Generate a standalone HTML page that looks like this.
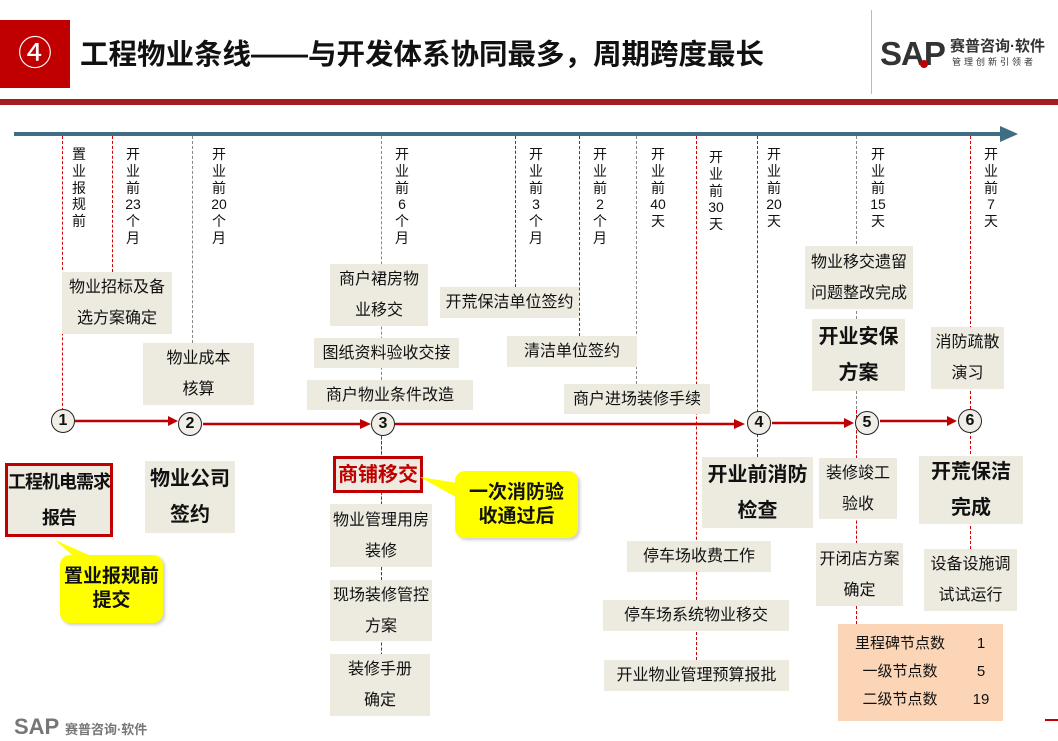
<!DOCTYPE html>
<html><head><meta charset="utf-8"><style>
*{margin:0;padding:0;box-sizing:border-box}
body{width:1058px;height:721px;overflow:hidden;background:#fff;position:relative;font-family:"Liberation Sans","Noto Sans CJK SC",sans-serif;color:#111}
.a{position:absolute}
.b{position:absolute;background:#edeae0;display:flex;align-items:center;justify-content:center;text-align:center;font-size:16px;line-height:31px;white-space:nowrap}
.bd{font-weight:bold;font-size:20px;line-height:36px}
.v{position:absolute;top:146px;width:16px;font-size:14px;line-height:16.8px;text-align:center;white-space:pre}
.g{position:absolute;width:0;border-left:1px dashed #d40000}
.c{position:absolute;width:24px;height:24px;border-radius:50%;border:1.5px solid #222;background:#f0eee6;font-weight:bold;font-size:16px;line-height:21px;text-align:center}
.y{position:absolute;background:#ffff00;border-radius:10px;font-weight:bold;font-size:19px;line-height:24px;display:flex;align-items:center;justify-content:center;text-align:center;box-shadow:2px 2px 3px #ccc}
</style></head><body>
<div class="a" style="left:0;top:20px;width:70px;height:68px;background:#c00000;color:#fff;font-size:34px;line-height:68px;text-align:center">④</div>
<div class="a" style="left:80px;top:35px;font-size:28.5px;font-weight:bold;line-height:40px;white-space:nowrap">工程物业条线——与开发体系协同最多，周期跨度最长</div>
<div class="a" style="left:871px;top:10px;width:1px;height:84px;background:#bbb"></div>
<div class="a" style="left:880px;top:36px;font-size:33px;font-weight:bold;color:#333;letter-spacing:-1px;line-height:36px">SAP</div>
<div class="a" style="left:920px;top:60px;width:8px;height:8px;border-radius:50%;background:#c00000"></div>
<div class="a" style="left:950px;top:38px;font-size:15px;font-weight:bold;color:#333;line-height:18px">赛普咨询·软件</div>
<div class="a" style="left:952px;top:57px;font-size:9px;color:#333;letter-spacing:3px;line-height:11px">管理创新引领者</div>
<div class="a" style="left:0;top:99px;width:1058px;height:6px;background:#a31d22"></div>
<div class="a" style="left:14px;top:132px;width:994px;height:4px;background:#3e6e81"></div>
<svg class="a" style="left:1000px;top:126px" width="20" height="16"><polygon points="0,0 18,8 0,16" fill="#3e6e81"/></svg>
<div class="g" style="left:62px;top:136px;height:285px"></div>
<div class="g" style="left:112px;top:136px;height:136px"></div>
<div class="g" style="left:192px;top:136px;height:207px;border-color:#888"></div>
<div class="g" style="left:381px;top:136px;height:580px;border-color:#888"></div>
<div class="g" style="left:381px;top:436px;height:280px"></div>
<div class="g" style="left:515px;top:136px;height:151px"></div>
<div class="g" style="left:579px;top:136px;height:200px"></div>
<div class="g" style="left:636px;top:136px;height:248px;border-color:#888"></div>
<div class="g" style="left:696px;top:136px;height:524px"></div>
<div class="g" style="left:757px;top:136px;height:321px"></div>
<div class="g" style="left:856px;top:136px;height:488px;border-color:#888"></div>
<div class="g" style="left:856px;top:410px;height:214px"></div>
<div class="g" style="left:970px;top:136px;height:413px"></div>
<div class="v" style="left:71px">置
业
报
规
前</div>
<div class="v" style="left:125px">开
业
前
23
个
月</div>
<div class="v" style="left:211px">开
业
前
20
个
月</div>
<div class="v" style="left:394px">开
业
前
6
个
月</div>
<div class="v" style="left:528px">开
业
前
3
个
月</div>
<div class="v" style="left:592px">开
业
前
2
个
月</div>
<div class="v" style="left:650px">开
业
前
40
天</div>
<div class="v" style="left:708px;top:149px">开
业
前
30
天</div>
<div class="v" style="left:766px">开
业
前
20
天</div>
<div class="v" style="left:870px">开
业
前
15
天</div>
<div class="v" style="left:983px">开
业
前
7
天</div>
<div class="b" style="left:62px;top:272px;width:110px;height:62px">物业招标及备<br>选方案确定</div>
<div class="b" style="left:143px;top:343px;width:111px;height:62px">物业成本<br>核算</div>
<div class="b" style="left:330px;top:264px;width:98px;height:62px">商户裙房物<br>业移交</div>
<div class="b" style="left:314px;top:338px;width:145px;height:30px">图纸资料验收交接</div>
<div class="b" style="left:307px;top:380px;width:166px;height:30px">商户物业条件改造</div>
<div class="b" style="left:440px;top:287px;width:139px;height:31px">开荒保洁单位签约</div>
<div class="b" style="left:507px;top:336px;width:130px;height:31px">清洁单位签约</div>
<div class="b" style="left:564px;top:384px;width:146px;height:30px">商户进场装修手续</div>
<div class="b" style="left:805px;top:246px;width:108px;height:63px">物业移交遗留<br>问题整改完成</div>
<div class="b bd" style="left:812px;top:319px;width:93px;height:72px">开业安保<br>方案</div>
<div class="b" style="left:931px;top:327px;width:73px;height:62px">消防疏散<br>演习</div>
<svg class="a" style="left:0;top:400px" width="1058" height="40">
<g stroke="#c00000" stroke-width="2.5" fill="#c00000">
<line x1="75" y1="21" x2="170" y2="21"/><polygon points="168,16 178,21 168,26" stroke="none"/>
<line x1="203" y1="24" x2="362" y2="24"/><polygon points="360,19 371,24 360,29" stroke="none"/>
<line x1="395" y1="24" x2="736" y2="24"/><polygon points="734,19 745,24 734,29" stroke="none"/>
<line x1="772" y1="23" x2="846" y2="23"/><polygon points="844,18 854,23 844,28" stroke="none"/>
<line x1="880" y1="21" x2="949" y2="21"/><polygon points="947,16 957,21 947,26" stroke="none"/>
</g></svg>
<div class="c" style="left:51px;top:409px">1</div>
<div class="c" style="left:178px;top:412px">2</div>
<div class="c" style="left:371px;top:412px">3</div>
<div class="c" style="left:747px;top:411px">4</div>
<div class="c" style="left:855px;top:411px">5</div>
<div class="c" style="left:958px;top:409px">6</div>
<div class="b bd" style="left:5px;top:463px;width:108px;height:74px;border:3px solid #c00000;font-size:18px;letter-spacing:-1px">工程机电需求<br>报告</div>
<div class="b bd" style="left:145px;top:461px;width:90px;height:72px">物业公司<br>签约</div>
<div class="b bd" style="left:333px;top:456px;width:90px;height:37px;border:3px solid #c00000;color:#c00000">商铺移交</div>
<svg class="a" style="left:0;top:440px" width="600" height="150">
<polygon points="420,37 470,45 470,65" fill="#ffff00"/>
<polygon points="55,100 100,120 80,122" fill="#ffff00"/>
</svg>
<div class="y" style="left:455px;top:471px;width:123px;height:67px">一次消防验<br>收通过后</div>
<div class="y" style="left:60px;top:555px;width:103px;height:68px">置业报规前<br>提交</div>
<div class="b" style="left:330px;top:504px;width:102px;height:63px">物业管理用房<br>装修</div>
<div class="b" style="left:330px;top:580px;width:102px;height:61px">现场装修管控<br>方案</div>
<div class="b" style="left:330px;top:654px;width:100px;height:62px">装修手册<br>确定</div>
<div class="b bd" style="left:702px;top:457px;width:111px;height:71px">开业前消防<br>检查</div>
<div class="b" style="left:819px;top:458px;width:78px;height:61px">装修竣工<br>验收</div>
<div class="b bd" style="left:919px;top:456px;width:104px;height:68px">开荒保洁<br>完成</div>
<div class="b" style="left:627px;top:541px;width:144px;height:31px">停车场收费工作</div>
<div class="b" style="left:603px;top:600px;width:186px;height:31px">停车场系统物业移交</div>
<div class="b" style="left:604px;top:660px;width:185px;height:31px">开业物业管理预算报批</div>
<div class="b" style="left:816px;top:543px;width:87px;height:63px">开闭店方案<br>确定</div>
<div class="b" style="left:924px;top:549px;width:93px;height:62px">设备设施调<br>试试运行</div>
<div class="a" style="left:838px;top:624px;width:165px;height:97px;background:#fbd5b5;font-size:15px;line-height:28px">
<div style="position:absolute;left:14px;top:6px;width:96px;text-align:center">里程碑节点数<br>一级节点数<br>二级节点数</div>
<div style="position:absolute;left:128px;top:6px;width:30px;text-align:center">1<br>5<br>19</div>
</div>
<div class="a" style="left:14px;top:716px;font-size:22px;font-weight:bold;color:#777;line-height:22px">SAP <span style="font-size:13px">赛普咨询·软件</span></div>
<div class="a" style="left:1045px;top:719px;width:13px;height:2px;background:#c00000"></div>
</body></html>
